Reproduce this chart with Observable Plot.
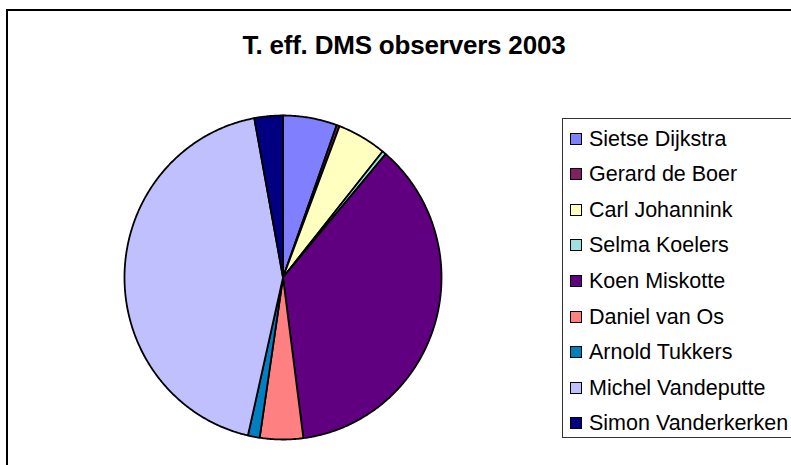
<!DOCTYPE html>
<html>
<head>
<meta charset="utf-8">
<script src="https://cdn.jsdelivr.net/npm/d3@7"></script>
<script src="https://cdn.jsdelivr.net/npm/@observablehq/plot@0.6"></script>
<style>
  html, body { margin: 0; padding: 0; background: #fff; overflow: hidden; }
  #wrap { position: relative; width: 791px; height: 465px; overflow: hidden; background: #fff;
          font-family: "Liberation Sans", Arial, sans-serif; }
  #frame { position: absolute; left: 6px; top: 9px; width: 820px; height: 520px;
           border: 2px solid #000; box-sizing: border-box; }
  #title { position: absolute; left: 0; width: 808px; top: 30px; text-align: center;
           font-weight: bold; font-size: 26px; color: #000; white-space: nowrap; letter-spacing: -0.2px; }
  #chart { position: absolute; left: 0; top: 0; }
  #legend { position: absolute; left: 562px; top: 118px; width: 260px; height: 320px;
            border: 1.5px solid #333; box-sizing: border-box; background: #fff; }
  .row { position: absolute; left: 0; height: 26px; white-space: nowrap; }
  .sw { position: absolute; left: 7px; width: 12px; height: 12px; box-sizing: border-box; border: 1.5px solid #000; }
  .lbl { position: absolute; left: 26px; font-size: 21.5px; color: #000; line-height: 26px; }
</style>
</head>
<body>
<div id="wrap">
  <div id="frame"></div>
  <div id="chart"></div>
  <div id="title">T. eff. DMS observers 2003</div>
  <div id="legend"></div>
</div>
<script>
const names = ["Sietse Dijkstra", "Gerard de Boer", "Carl Johannink", "Selma Koelers",
  "Koen Miskotte", "Daniel van Os", "Arnold Tukkers", "Michel Vandeputte", "Simon Vanderkerken"];
const values = [5.5, 0.3, 5.0, 0.4, 36.7, 4.4, 1.2, 43.5, 2.9];
const colors = ["#8080FF", "#802060", "#FFFFC0", "#A0E0E0", "#600080", "#FF8080", "#0080C0", "#C0C0FF", "#000080"];

// build slice outlines from the values (angles clockwise from 12 o'clock)
const arcs = d3.pie().sort(null).value(d => d)(values);
const pts = [];
arcs.forEach((a, i) => {
  const name = names[i];
  pts.push({name, x: 0, y: 0});
  const n = Math.max(2, Math.ceil((a.endAngle - a.startAngle) / (Math.PI / 360)));
  for (let k = 0; k <= n; k++) {
    const t = a.startAngle + (a.endAngle - a.startAngle) * k / n;
    pts.push({name, x: Math.sin(t), y: Math.cos(t)});
  }
  pts.push({name, x: 0, y: 0});
});

const W = 791, H = 465;
const plot = Plot.plot({
  width: W, height: H,
  marginLeft: 124, marginRight: W - 441, marginTop: 115, marginBottom: H - 439,
  x: {domain: [-1, 1], axis: null},
  y: {domain: [-1, 1], axis: null},
  color: {domain: names, range: colors},
  style: {background: "transparent"},
  marks: [
    Plot.line(pts, {x: "x", y: "y", z: "name", fill: "name", stroke: "#000",
      strokeWidth: 1.8, strokeLinejoin: "round", curve: "linear"})
  ]
});
document.getElementById("chart").appendChild(plot);

const color = plot.scale("color");
const legend = document.getElementById("legend");
names.forEach((n, i) => {
  const row = document.createElement("div");
  row.className = "row";
  row.style.top = (137.5 - 118 - 13 + i * 35.6) + "px";
  const sw = document.createElement("div");
  sw.className = "sw";
  sw.style.background = color.apply(n);
  sw.style.top = "7px";
  const lb = document.createElement("div");
  lb.className = "lbl";
  lb.textContent = n;
  row.appendChild(sw);
  row.appendChild(lb);
  legend.appendChild(row);
});
</script>
</body>
</html>
